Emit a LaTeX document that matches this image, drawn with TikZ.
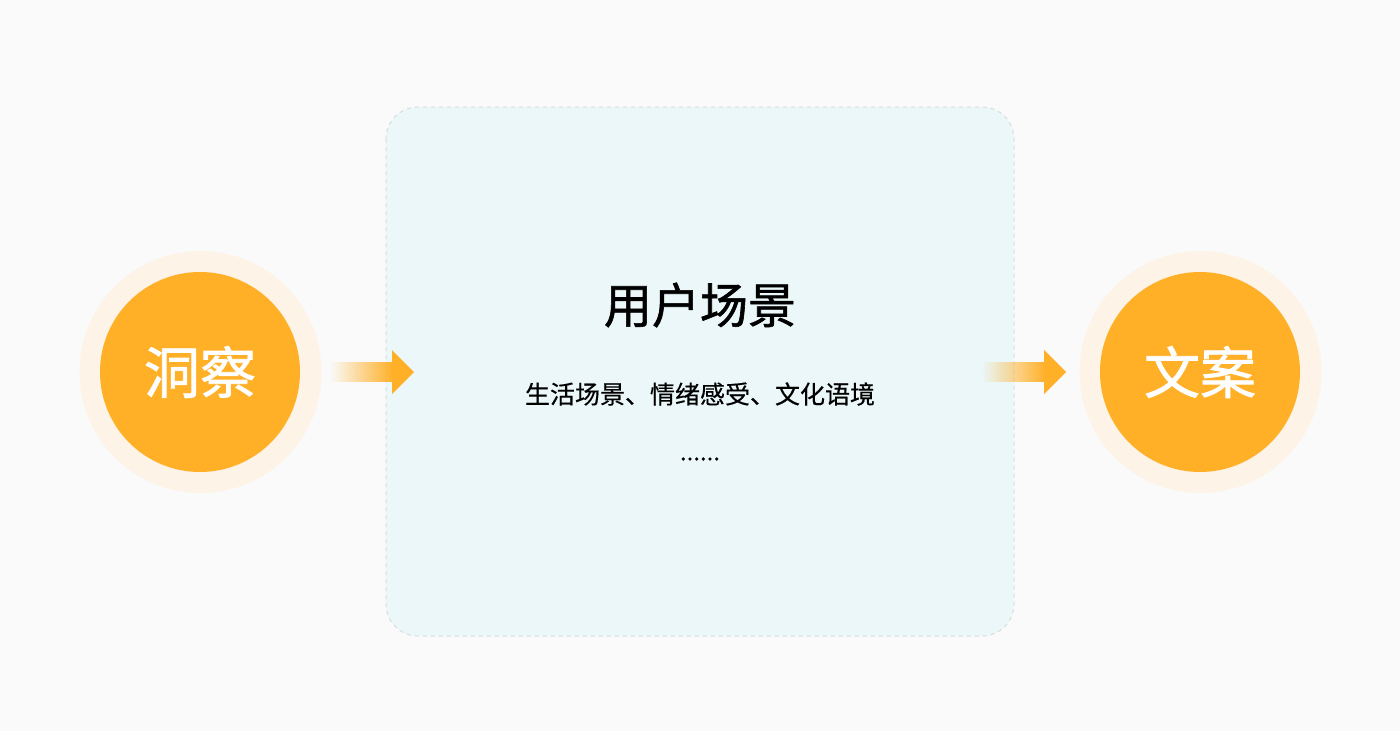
\documentclass[tikz,border=0pt]{standalone}
\usepackage{fontspec}
\newfontfamily\cjk{Noto Sans CJK SC}
\newfontfamily\cjkmed[FakeBold=1.3]{Noto Sans CJK SC}
\newfontfamily\cjklight[FakeBold=0.4]{Noto Sans CJK SC}
\usetikzlibrary{fadings}
\definecolor{bgc}{RGB}{250,250,250}
\definecolor{orangec}{RGB}{255,176,39}
\definecolor{ringc}{RGB}{253,243,231}
\definecolor{boxc}{RGB}{235,247,248}
\definecolor{borderc}{RGB}{214,221,224}
\tikzfading[name=arrowfade, left color=transparent!100, right color=transparent!0]
\tikzset{
  ring/.style={circle, fill=ringc, minimum size=242pt, inner sep=0pt},
  core/.style={circle, fill=orangec, minimum size=200pt, inner sep=0pt, text=white, font=\cjkmed\fontsize{56}{60}\selectfont},
  panel/.style={draw=borderc, line width=1pt, dash pattern=on 4pt off 4pt, fill=boxc, rounded corners=32pt},
  shaft/.style={fill=orangec, path fading=arrowfade},
  head/.style={fill=orangec}
}
\begin{document}
\begin{tikzpicture}[x=1pt,y=-1pt]
\useasboundingbox (0,0) rectangle (1400,731);
\fill[bgc] (0,0) rectangle (1400,731);
% panel
\draw[panel] (386,107) rectangle (1014,636);
\node[font=\cjkmed\fontsize{48}{52}\selectfont] (title) at (700,305) {用户场景};
\node[font=\cjklight\fontsize{25}{28}\selectfont] (sub) at (700,394) {生活场景、情绪感受、文化语境};
\node[font=\cjklight\fontsize{24}{28}\selectfont] (dots) at (700,459) {......};
% circles
\node[ring] (lring) at (200.5,372) {};
\node[core] (left) at (200,372) {洞察};
\node[ring] (rring) at (1200.5,372) {};
\node[core] (right) at (1200,372) {文案};
% arrows
\fill[shaft] (330,362) rectangle (394,382);
\fill[head] (392,350) -- (414,372) -- (392,394) -- cycle;
\fill[shaft] (982,362) rectangle (1046,382);
\fill[head] (1044,350) -- (1066,372) -- (1044,394) -- cycle;
\end{tikzpicture}
\end{document}
